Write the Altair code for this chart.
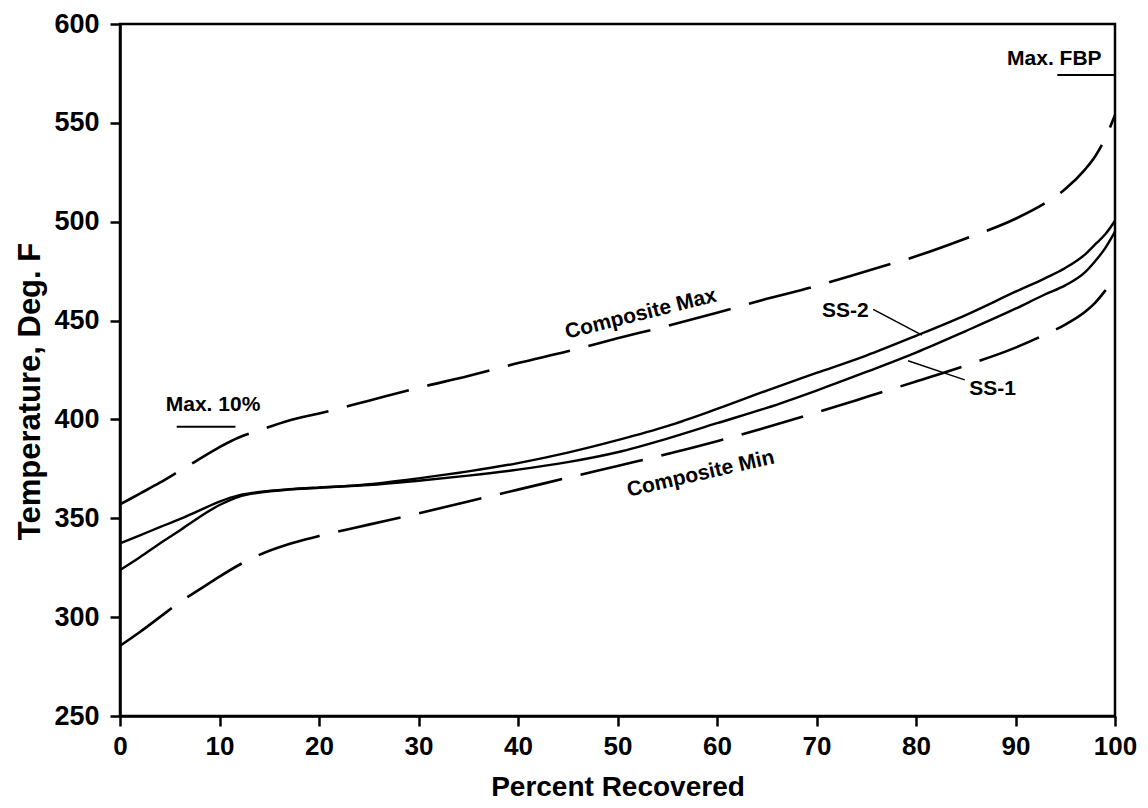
import altair as alt
import pandas as pd

# ---- data ----
x_pts = [0, 2, 4, 6, 8, 10, 12, 14, 17, 20, 25, 30, 35, 40, 45, 50, 55, 60, 65, 70,
         75, 80, 85, 90, 93, 95, 97, 98, 99, 100]

comp_max = [357, 362.5, 368, 374, 380, 386, 391, 394.5, 399.5, 403, 409.5, 416, 422,
            428.5, 434.5, 441, 447.3, 454, 461, 467.5, 475, 482.5, 491.5, 501.5, 509.5,
            516.5, 526.5, 533, 542, 554]
comp_min = [285.5, 292.5, 300, 307.5, 314, 320.5, 326.5, 331.5, 337, 341, 346.8, 352.5,
            358.5, 364.5, 370.5, 376.5, 382.5, 389, 396, 403.5, 411.3, 419.2, 427.3,
            436.3, 443, 448, 454.5, 459, 465, 472]
ss1 = [337.3, 341.4, 345.5, 349.6, 354, 358.4, 361.7, 363.3, 364.7, 365.6, 366.8, 369,
       371.6, 374.6, 378.4, 383.4, 390.3, 398.1, 405.8, 414.6, 424, 433.8, 444.7, 456,
       463.3, 467.8, 474.5, 480, 486.5, 495]
ss2 = [323.8, 330.3, 337.2, 343.8, 350.7, 356.7, 361, 363, 364.5, 365.4, 367.2, 370.2,
       373.7, 377.9, 383.2, 389.5, 396.6, 405.3, 414.6, 423.5, 432.3, 442.3, 452.8,
       464.6, 471.5, 476.6, 483.5, 488.5, 493.5, 500.5]

label_text = ["Max. 10%", "Max. FBP", "SS-2", "SS-1"]
label_x = [9.35, 93.9, 72.9, 87.7]
label_y = [404.3, 579.3, 452.0, 412.3]

rot_text = ["Composite Max", "Composite Min"]
rot_x = [52.5, 58.5]
rot_y = [450.3, 369.4]
rot_angle = [346, 347]

under_x = [5.7, 94.2]
under_x2 = [11.6, 100]
under_y = [396.3, 574.2]

lead_x = [75.7, 84.9]
lead_x2 = [80.6, 79.2]
lead_y = [455.7, 420.0]
lead_y2 = [442.6, 429.7]

x_ticks = list(range(0, 101, 10))
y_ticks = list(range(250, 601, 50))

FONT = "Liberation Sans"

# ---- tables ----
solid = pd.concat([
    pd.DataFrame({"x": x_pts, "y": ss1, "series": "SS-1"}),
    pd.DataFrame({"x": x_pts, "y": ss2, "series": "SS-2"}),
])
dashed = pd.concat([
    pd.DataFrame({"x": x_pts, "y": comp_max, "series": "Composite Max"}),
    pd.DataFrame({"x": x_pts, "y": comp_min, "series": "Composite Min"}),
])
labels = pd.DataFrame({"t": label_text, "x": label_x, "y": label_y})
rlabels = pd.DataFrame({"t": rot_text, "x": rot_x, "y": rot_y, "a": rot_angle})
unders = pd.DataFrame({"x": under_x, "x2": under_x2, "y": under_y})
leads = pd.DataFrame({"x": lead_x, "x2": lead_x2, "y": lead_y, "y2": lead_y2})

xs = alt.Scale(domain=[0, 100], nice=False, zero=False)
ys = alt.Scale(domain=[250, 600], nice=False, zero=False)

x_axis = alt.Axis(values=x_ticks, format="d", title="Percent Recovered", grid=False,
                  labelFlush=False, labelOverlap=False, labelFont=FONT, labelFontWeight="bold",
                  labelFontSize=26, labelColor="black", labelPadding=7,
                  tickSize=10, tickWidth=2.5, tickColor="black",
                  domainColor="black", domainWidth=2.5,
                  titleFont=FONT, titleFontWeight="bold", titleFontSize=28, titleColor="black",
                  titlePadding=14)
y_axis = alt.Axis(values=y_ticks, format="d", title="Temperature, Deg. F", grid=False,
                  labelFlush=False, labelOverlap=False, labelFont=FONT, labelFontWeight="bold",
                  labelFontSize=27, labelColor="black", labelPadding=11,
                  tickSize=10, tickWidth=2.5, tickColor="black",
                  domainColor="black", domainWidth=2.5,
                  titleFont=FONT, titleFontWeight="bold", titleFontSize=31, titleColor="black",
                  titlePadding=7, titleY=367)

base_x = alt.X("x:Q", scale=xs, axis=x_axis)
base_y = alt.Y("y:Q", scale=ys, axis=y_axis)

solid_layer = alt.Chart(solid).mark_line(color="black", strokeWidth=2.4, interpolate="monotone").encode(
    x=base_x, y=base_y, detail="series:N", order="x:Q")

dashed_layer = alt.Chart(dashed).mark_line(color="black", strokeWidth=2.6, interpolate="monotone",
                                           strokeDash=[64, 19]).encode(
    x=alt.X("x:Q", scale=xs), y=alt.Y("y:Q", scale=ys), detail="series:N", order="x:Q")

text_layer = alt.Chart(labels).mark_text(font=FONT, fontWeight="bold", fontSize=21, color="black",
                                         align="center", baseline="alphabetic").encode(
    x=alt.X("x:Q", scale=xs), y=alt.Y("y:Q", scale=ys), text="t:N")

rot_layer = alt.Chart(rlabels).mark_text(font=FONT, fontWeight="bold", fontSize=21, color="black",
                                         align="center", baseline="alphabetic").encode(
    x=alt.X("x:Q", scale=xs), y=alt.Y("y:Q", scale=ys), text="t:N",
    angle=alt.Angle("a:Q", scale=None))

under_layer = alt.Chart(unders).mark_rule(color="black", strokeWidth=2).encode(
    x=alt.X("x:Q", scale=xs), x2="x2:Q", y=alt.Y("y:Q", scale=ys))

lead_layer = alt.Chart(leads).mark_rule(color="black", strokeWidth=1.5).encode(
    x=alt.X("x:Q", scale=xs), x2="x2:Q", y=alt.Y("y:Q", scale=ys), y2="y2:Q")

chart = alt.layer(solid_layer, dashed_layer, under_layer, lead_layer, text_layer, rot_layer).properties(
    width=995, height=692,
    autosize=alt.AutoSizeParams(type="none"),
    padding={"left": 120, "top": 24, "right": 33, "bottom": 92},
    background="white",
).configure_view(stroke="black", strokeWidth=2.5)

chart.save("out.html", embed_options={"renderer": "svg", "actions": False})
